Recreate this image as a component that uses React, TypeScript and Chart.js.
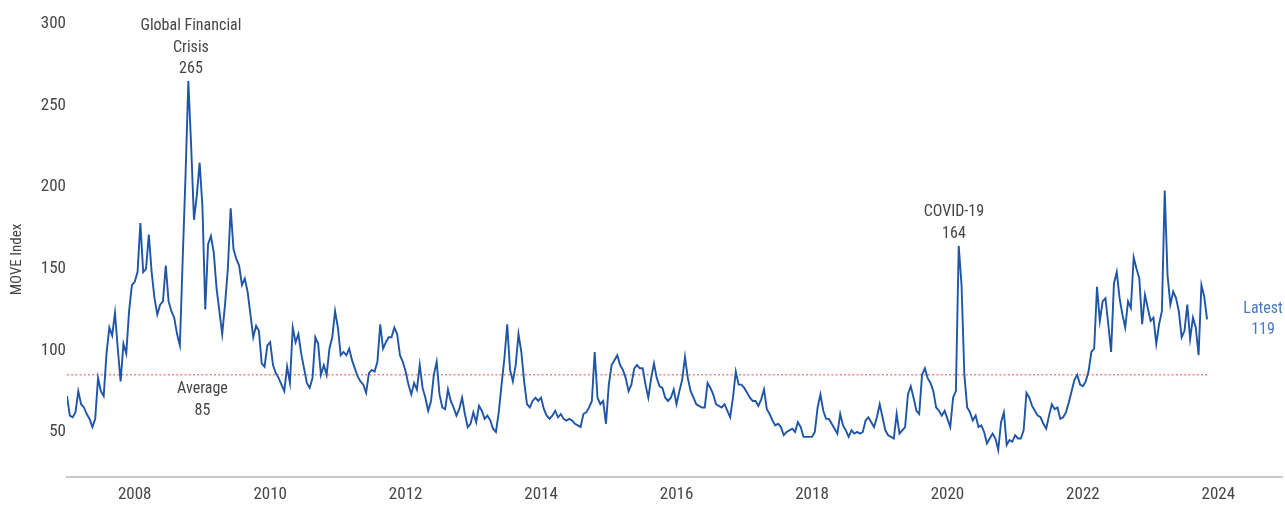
import React, { useEffect, useRef } from 'react';
import { Chart, registerables } from 'chart.js';

Chart.register(...registerables);

// ---- data (semi-monthly readings of the MOVE Index) ----
const startYear = 2007;
const pointsPerYear = 24;

const v2007 = [72, 60, 59, 62, 75, 67, 65, 61, 58, 53, 58, 83, 75, 72, 98, 114, 109, 123, 101, 81, 104, 98, 124, 140];
const v2008 = [142, 148, 178, 148, 150, 171, 148, 132, 122, 128, 130, 152, 130, 124, 120, 110, 103, 156, 207, 265, 225, 180, 195, 215];
const v2009 = [188, 125, 165, 170, 160, 138, 124, 110, 128, 150, 187, 162, 156, 152, 140, 144, 136, 122, 108, 115, 112, 92, 90, 103];
const v2010 = [105, 91, 86, 83, 79, 75, 90, 80, 114, 105, 110, 98, 89, 80, 77, 83, 108, 104, 85, 91, 85, 101, 108, 124];
const v2011 = [114, 97, 99, 97, 101, 94, 89, 84, 81, 79, 74, 86, 88, 87, 93, 116, 101, 105, 108, 108, 114, 110, 97, 93];
const v2012 = [87, 79, 73, 80, 76, 91, 77, 71, 63, 69, 85, 93, 73, 65, 64, 76, 69, 65, 60, 64, 71, 61, 53, 55];
const v2013 = [62, 56, 66, 63, 58, 60, 57, 52, 50, 62, 79, 95, 116, 88, 81, 91, 110, 99, 81, 67, 65, 69, 71, 69];
const v2014 = [71, 64, 60, 58, 60, 63, 59, 61, 58, 57, 58, 57, 55, 54, 53, 61, 62, 65, 69, 99, 71, 67, 69, 55];
const v2015 = [79, 91, 94, 97, 91, 88, 83, 75, 79, 89, 91, 89, 89, 79, 71, 83, 92, 83, 78, 77, 71, 69, 71, 76];
const v2016 = [67, 75, 82, 96, 83, 75, 71, 67, 66, 65, 65, 80, 77, 73, 67, 66, 65, 67, 63, 59, 71, 87, 79, 79];
const v2017 = [77, 74, 71, 69, 69, 66, 70, 76, 64, 61, 57, 54, 55, 53, 48, 50, 51, 52, 50, 56, 53, 47, 47, 47];
const v2018 = [47, 50, 65, 73, 63, 58, 58, 55, 52, 49, 61, 54, 51, 47, 51, 49, 50, 49, 50, 57, 59, 56, 53, 59];
const v2019 = [67, 59, 51, 48, 47, 46, 61, 49, 51, 53, 73, 78, 71, 63, 61, 85, 89, 83, 80, 75, 65, 63, 60, 63];
const v2020 = [58, 53, 71, 75, 164, 140, 85, 65, 62, 57, 60, 53, 54, 50, 43, 46, 49, 46, 39, 56, 62, 42, 45, 44];
const v2021 = [48, 46, 46, 51, 74, 71, 66, 63, 60, 59, 55, 52, 60, 67, 64, 65, 58, 59, 62, 68, 75, 82, 85, 79];
const v2022 = [78, 81, 87, 99, 101, 139, 118, 130, 132, 116, 99, 141, 148, 132, 122, 114, 130, 126, 157, 150, 144, 116, 134, 126];
const v2023 = [118, 120, 104, 116, 124, 198, 146, 128, 136, 132, 124, 108, 112, 128, 107, 120, 114, 97, 140, 133, 119];

const yearlyValues = [v2007, v2008, v2009, v2010, v2011, v2012, v2013, v2014, v2015, v2016, v2017, v2018, v2019, v2020, v2021, v2022, v2023];

const xTickYears = [2008, 2010, 2012, 2014, 2016, 2018, 2020, 2022, 2024];
const yTickValues = [50, 100, 150, 200, 250, 300];
const averageValue = 85;
const yTitle = 'MOVE Index';

const noteGfc = ['Global Financial', 'Crisis', '265'];
const noteCovid = ['COVID-19', '164'];
const noteAverage = ['Average', '85'];
const noteLatest = ['Latest', '119'];

// ---- styles ----
const FONT = "'Roboto Condensed', 'DejaVu Sans Condensed', sans-serif";
const TEXT = '#454545';
const LINE_BLUE = '#1f55a6';
const LATEST_BLUE = '#4a78c2';

type Note = { lines: string[]; date: number; value: number; mode: 'above' | 'below' | 'center'; color: string };

const notes: Note[] = [
  { lines: noteGfc, date: 2008.83, value: 265, mode: 'above', color: TEXT },
  { lines: noteCovid, date: 2020.096, value: 164, mode: 'above', color: TEXT },
  { lines: noteAverage, date: 2009.0, value: averageValue, mode: 'below', color: TEXT },
  { lines: noteLatest, date: 2024.66, value: 119, mode: 'center', color: LATEST_BLUE },
];

const notesPlugin = {
  id: 'notes',
  afterDatasetsDraw(chart: any) {
    const { ctx, scales, chartArea } = chart;
    const xs = scales.x;
    const ys = scales.y;
    const lh = 21.5;
    ctx.save();
    ctx.font = `16px ${FONT}`;
    ctx.textAlign = 'center';
    ctx.textBaseline = 'middle';
    notes.forEach((n) => {
      const px = xs.getPixelForValue(n.date);
      const py = ys.getPixelForValue(n.value);
      const count = n.lines.length;
      n.lines.forEach((t, i) => {
        let y: number;
        if (n.mode === 'above') y = py - 12 - (count - 1 - i) * lh;
        else if (n.mode === 'below') y = py + 14.5 + i * lh;
        else y = py - lh / 2 + i * lh;
        ctx.fillStyle = n.color;
        ctx.fillText(t, px, y);
      });
    });
    // y-axis title
    ctx.translate(17, (chartArea.top + chartArea.bottom) / 2 + 9);
    ctx.rotate(-Math.PI / 2);
    ctx.font = `15px ${FONT}`;
    ctx.fillStyle = TEXT;
    ctx.fillText(yTitle, 0, 0);
    ctx.restore();
  },
};

export default function App() {
  const canvasRef = useRef<HTMLCanvasElement | null>(null);

  useEffect(() => {
    if (!canvasRef.current) return;
    const points = yearlyValues.flatMap((arr, k) =>
      arr.map((v, i) => ({ x: startYear + k + i / pointsPerYear, y: v }))
    );
    const first = points[0].x;
    const last = points[points.length - 1].x;

    const chart = new Chart(canvasRef.current, {
      type: 'line',
      data: {
        datasets: [
          {
            data: points,
            borderColor: LINE_BLUE,
            borderWidth: 1.9,
            pointRadius: 0,
            tension: 0,
            fill: false,
          },
          {
            data: [
              { x: first, y: averageValue },
              { x: last, y: averageValue },
            ],
            borderColor: 'rgba(242, 110, 110, 0.85)',
            borderWidth: 1.5,
            borderDash: [2, 2.2],
            pointRadius: 0,
            fill: false,
          },
        ],
      },
      options: {
        animation: false,
        responsive: true,
        maintainAspectRatio: false,
        layout: { padding: { top: 24, right: 3, bottom: 0, left: 0 } },
        plugins: {
          legend: { display: false },
          tooltip: { enabled: false },
        },
        scales: {
          x: {
            type: 'linear',
            min: 2007,
            max: 2024.94,
            grid: { display: false, drawTicks: false },
            border: { display: true, color: '#c8c8c8', width: 2 },
            ticks: {
              font: { family: FONT, size: 17 },
              color: TEXT,
              padding: 8,
              autoSkip: false,
              maxRotation: 0,
              callback: (v: any) => String(v),
            },
            afterBuildTicks: (s: any) => {
              s.ticks = xTickYears.map((v) => ({ value: v }));
            },
            afterFit: (s: any) => {
              s.height = 28;
            },
          },
          y: {
            min: 22.4,
            max: 300,
            grid: { display: false, drawTicks: false },
            border: { display: false },
            ticks: {
              font: { family: FONT, size: 17 },
              color: TEXT,
              padding: 1,
              callback: (v: any) => String(v),
            },
            afterBuildTicks: (s: any) => {
              s.ticks = yTickValues.map((v) => ({ value: v }));
            },
            afterFit: (s: any) => {
              s.width = 67;
            },
          },
        },
      },
      plugins: [notesPlugin],
    });
    return () => chart.destroy();
  }, []);

  return (
    <div style={{ position: 'absolute', left: 0, top: 0, width: 1285, height: 505 }}>
      <canvas ref={canvasRef} />
    </div>
  );
}
